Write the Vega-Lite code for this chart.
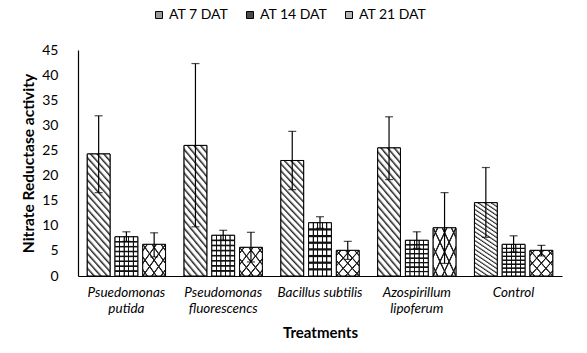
{
  "$schema": "https://vega.github.io/schema/vega-lite/v6.json",
  "width": 484,
  "height": 226,
  "autosize": {"type": "none"},
  "padding": {"left": 78, "top": 50, "right": 25, "bottom": 77},
  "background": "white",
  "config": {
    "font": "Lato",
    "view": {"stroke": null},
    "axisY": {"labelOverlap": false, "labelFontSize": 14, "labelColor": "black", "labelPadding": 20, "ticks": false, "tickSize": 0, "grid": false, "domain": true, "domainColor": "black", "domainWidth": 1, "domainOpacity": 1, "titleFontSize": 15.5, "titleFontWeight": "bold", "titleColor": "black", "titlePadding": 5}
  },
  "data": {
    "values": [
      {"treatment": "Psuedomonas putida", "series": "AT 7 DAT", "value": 24.3, "lo": 16.6, "hi": 31.9},
      {"treatment": "Psuedomonas putida", "series": "AT 14 DAT", "value": 7.8, "lo": 6.9, "hi": 8.8},
      {"treatment": "Psuedomonas putida", "series": "AT 21 DAT", "value": 6.3, "lo": 3.8, "hi": 8.6},
      {"treatment": "Pseudomonas fluorescencs", "series": "AT 7 DAT", "value": 26.0, "lo": 9.8, "hi": 42.3},
      {"treatment": "Pseudomonas fluorescencs", "series": "AT 14 DAT", "value": 8.1, "lo": 7.1, "hi": 9.1},
      {"treatment": "Pseudomonas fluorescencs", "series": "AT 21 DAT", "value": 5.7, "lo": 2.8, "hi": 8.7},
      {"treatment": "Bacillus subtilis", "series": "AT 7 DAT", "value": 23.0, "lo": 17.2, "hi": 28.8},
      {"treatment": "Bacillus subtilis", "series": "AT 14 DAT", "value": 10.6, "lo": 9.5, "hi": 11.8},
      {"treatment": "Bacillus subtilis", "series": "AT 21 DAT", "value": 5.1, "lo": 3.3, "hi": 6.9},
      {"treatment": "Azospirillum lipoferum", "series": "AT 7 DAT", "value": 25.5, "lo": 19.2, "hi": 31.7},
      {"treatment": "Azospirillum lipoferum", "series": "AT 14 DAT", "value": 7.1, "lo": 5.5, "hi": 8.8},
      {"treatment": "Azospirillum lipoferum", "series": "AT 21 DAT", "value": 9.6, "lo": 2.5, "hi": 16.6},
      {"treatment": "Control", "series": "AT 7 DAT", "value": 14.6, "lo": 7.7, "hi": 21.6},
      {"treatment": "Control", "series": "AT 14 DAT", "value": 6.3, "lo": 4.8, "hi": 8.0},
      {"treatment": "Control", "series": "AT 21 DAT", "value": 5.1, "lo": 4.0, "hi": 6.1}
    ]
  },
  "encoding": {
    "x": {
      "field": "treatment",
      "type": "nominal",
      "sort": ["Psuedomonas putida", "Pseudomonas fluorescencs", "Bacillus subtilis", "Azospirillum lipoferum", "Control"],
      "scale": {"paddingInner": 0.18, "paddingOuter": 0.09},
      "axis": {
        "title": "Treatments",
        "titleFontSize": 15,
        "titleFontWeight": "bold",
        "titleColor": "black",
        "titlePadding": 11,
        "labelAngle": 0,
        "labelFontSize": 13.5,
        "labelFontStyle": "italic",
        "labelColor": "black",
        "labelLineHeight": 16,
        "labelPadding": 9,
        "labelOverlap": false,
        "labelExpr": "datum.label == 'Bacillus subtilis' ? datum.label : split(datum.label, ' ')",
        "ticks": false,
        "domain": true,
        "domainColor": "black",
        "domainWidth": 1
      }
    },
    "xOffset": {
      "field": "series",
      "type": "nominal",
      "sort": ["AT 7 DAT", "AT 14 DAT", "AT 21 DAT"],
      "scale": {"domain": ["AT 7 DAT", "AT 14 DAT", "AT 21 DAT"], "paddingInner": 0.18, "paddingOuter": 0.02}
    },
    "y": {
      "field": "value",
      "type": "quantitative",
      "scale": {"domain": [0, 45]},
      "axis": {"title": "Nitrate Reductase activity", "values": [0, 5, 10, 15, 20, 25, 30, 35, 40, 45], "labelOverlap": false, "domain": true, "domainColor": "black", "domainWidth": 1.2}
    }
  },
  "layer": [
    {
      "mark": {"type": "bar", "stroke": "black", "strokeWidth": 1},
      "encoding": {
        "color": {
          "field": "series",
          "type": "nominal",
          "sort": ["AT 7 DAT", "AT 14 DAT", "AT 21 DAT"],
          "scale": {
            "domain": ["AT 7 DAT", "AT 14 DAT", "AT 21 DAT"],
            "range": ["#9a9a9a", "#4a4a4a", "#b5b5b5"]
          },
          "legend": {
            "orient": "none",
            "legendX": 74,
            "legendY": -42,
            "direction": "horizontal",
            "gridAlign": "none",
            "title": null,
            "symbolType": "square",
            "symbolSize": 49,
            "symbolStrokeColor": "black",
            "symbolStrokeWidth": 1,
            "labelFontSize": 14,
            "labelColor": "black",
            "labelOffset": 3,
            "columnPadding": 14
          }
        }
      }
    },
    {
      "transform": [{"filter": "datum.series == 'AT 7 DAT'"}],
      "mark": {"type": "bar", "stroke": "black", "strokeWidth": 1, "fill": {"gradient": "linear", "x1": 0, "y1": 1, "x2": 0.242, "y2": -0.158, "stops": [
        {"offset": 0, "color": "#222"}, {"offset": 0.02, "color": "white"}, {"offset": 0.04, "color": "white"},
        {"offset": 0.05, "color": "#222"}, {"offset": 0.07, "color": "white"}, {"offset": 0.09, "color": "white"},
        {"offset": 0.10, "color": "#222"}, {"offset": 0.12, "color": "white"}, {"offset": 0.14, "color": "white"},
        {"offset": 0.15, "color": "#222"}, {"offset": 0.17, "color": "white"}, {"offset": 0.19, "color": "white"},
        {"offset": 0.20, "color": "#222"}, {"offset": 0.22, "color": "white"}, {"offset": 0.24, "color": "white"},
        {"offset": 0.25, "color": "#222"}, {"offset": 0.27, "color": "white"}, {"offset": 0.29, "color": "white"},
        {"offset": 0.30, "color": "#222"}, {"offset": 0.32, "color": "white"}, {"offset": 0.34, "color": "white"},
        {"offset": 0.35, "color": "#222"}, {"offset": 0.37, "color": "white"}, {"offset": 0.39, "color": "white"},
        {"offset": 0.40, "color": "#222"}, {"offset": 0.42, "color": "white"}, {"offset": 0.44, "color": "white"},
        {"offset": 0.45, "color": "#222"}, {"offset": 0.47, "color": "white"}, {"offset": 0.49, "color": "white"},
        {"offset": 0.50, "color": "#222"}, {"offset": 0.52, "color": "white"}, {"offset": 0.54, "color": "white"},
        {"offset": 0.55, "color": "#222"}, {"offset": 0.57, "color": "white"}, {"offset": 0.59, "color": "white"},
        {"offset": 0.60, "color": "#222"}, {"offset": 0.62, "color": "white"}, {"offset": 0.64, "color": "white"},
        {"offset": 0.65, "color": "#222"}, {"offset": 0.67, "color": "white"}, {"offset": 0.69, "color": "white"},
        {"offset": 0.70, "color": "#222"}, {"offset": 0.72, "color": "white"}, {"offset": 0.74, "color": "white"},
        {"offset": 0.75, "color": "#222"}, {"offset": 0.77, "color": "white"}, {"offset": 0.79, "color": "white"},
        {"offset": 0.80, "color": "#222"}, {"offset": 0.82, "color": "white"}, {"offset": 0.84, "color": "white"},
        {"offset": 0.85, "color": "#222"}, {"offset": 0.87, "color": "white"}, {"offset": 0.89, "color": "white"},
        {"offset": 0.90, "color": "#222"}, {"offset": 0.92, "color": "white"}, {"offset": 0.94, "color": "white"},
        {"offset": 0.95, "color": "#222"}, {"offset": 0.97, "color": "white"}, {"offset": 0.99, "color": "white"},
        {"offset": 1, "color": "#222"}
      ]}},
      "encoding": {}
    },
    {
      "transform": [{"filter": "datum.series == 'AT 14 DAT'"}],
      "mark": {"type": "bar", "stroke": "black", "strokeWidth": 1, "fill": {"gradient": "linear", "x1": 0, "y1": 0, "x2": 1, "y2": 0, "stops": [
        {"offset": 0, "color": "white"}, {"offset": 0.165, "color": "white"}, {"offset": 0.185, "color": "#111"}, {"offset": 0.215, "color": "#111"}, {"offset": 0.235, "color": "white"},
        {"offset": 0.365, "color": "white"}, {"offset": 0.385, "color": "#111"}, {"offset": 0.415, "color": "#111"}, {"offset": 0.435, "color": "white"},
        {"offset": 0.565, "color": "white"}, {"offset": 0.585, "color": "#111"}, {"offset": 0.615, "color": "#111"}, {"offset": 0.635, "color": "white"},
        {"offset": 0.765, "color": "white"}, {"offset": 0.785, "color": "#111"}, {"offset": 0.815, "color": "#111"}, {"offset": 0.835, "color": "white"},
        {"offset": 1, "color": "white"}
      ]}},
      "encoding": {}
    },
    {
      "transform": [{"filter": "datum.series == 'AT 14 DAT'"}],
      "mark": {"type": "bar", "fill": {"gradient": "linear", "x1": 0, "y1": 0, "x2": 0, "y2": 1, "stops": [
        {"offset": 0, "color": "rgba(0,0,0,0)"},
        {"offset": 0.095, "color": "rgba(0,0,0,0)"}, {"offset": 0.113, "color": "#111"}, {"offset": 0.137, "color": "#111"}, {"offset": 0.155, "color": "rgba(0,0,0,0)"},
        {"offset": 0.22, "color": "rgba(0,0,0,0)"}, {"offset": 0.238, "color": "#111"}, {"offset": 0.262, "color": "#111"}, {"offset": 0.28, "color": "rgba(0,0,0,0)"},
        {"offset": 0.345, "color": "rgba(0,0,0,0)"}, {"offset": 0.363, "color": "#111"}, {"offset": 0.387, "color": "#111"}, {"offset": 0.405, "color": "rgba(0,0,0,0)"},
        {"offset": 0.47, "color": "rgba(0,0,0,0)"}, {"offset": 0.488, "color": "#111"}, {"offset": 0.512, "color": "#111"}, {"offset": 0.53, "color": "rgba(0,0,0,0)"},
        {"offset": 0.595, "color": "rgba(0,0,0,0)"}, {"offset": 0.613, "color": "#111"}, {"offset": 0.637, "color": "#111"}, {"offset": 0.655, "color": "rgba(0,0,0,0)"},
        {"offset": 0.72, "color": "rgba(0,0,0,0)"}, {"offset": 0.738, "color": "#111"}, {"offset": 0.762, "color": "#111"}, {"offset": 0.78, "color": "rgba(0,0,0,0)"},
        {"offset": 0.845, "color": "rgba(0,0,0,0)"}, {"offset": 0.863, "color": "#111"}, {"offset": 0.887, "color": "#111"}, {"offset": 0.905, "color": "rgba(0,0,0,0)"},
        {"offset": 1, "color": "rgba(0,0,0,0)"}
      ]}},
      "encoding": {}
    },
    {
      "transform": [{"filter": "datum.series == 'AT 21 DAT'"}],
      "mark": {"type": "bar", "stroke": "black", "strokeWidth": 1, "fill": {"gradient": "linear", "x1": 0, "y1": 0, "x2": 1, "y2": 1, "stops": [
        {"offset": 0, "color": "white"}, {"offset": 0.075, "color": "white"}, {"offset": 0.09, "color": "#222"}, {"offset": 0.11, "color": "#222"}, {"offset": 0.125, "color": "white"},
        {"offset": 0.275, "color": "white"}, {"offset": 0.29, "color": "#222"}, {"offset": 0.31, "color": "#222"}, {"offset": 0.325, "color": "white"},
        {"offset": 0.475, "color": "white"}, {"offset": 0.49, "color": "#222"}, {"offset": 0.51, "color": "#222"}, {"offset": 0.525, "color": "white"},
        {"offset": 0.675, "color": "white"}, {"offset": 0.69, "color": "#222"}, {"offset": 0.71, "color": "#222"}, {"offset": 0.725, "color": "white"},
        {"offset": 0.875, "color": "white"}, {"offset": 0.89, "color": "#222"}, {"offset": 0.91, "color": "#222"}, {"offset": 0.925, "color": "white"},
        {"offset": 1, "color": "white"}
      ]}},
      "encoding": {}
    },
    {
      "transform": [{"filter": "datum.series == 'AT 21 DAT'"}],
      "mark": {"type": "bar", "fill": {"gradient": "linear", "x1": 0, "y1": 1, "x2": 1, "y2": 0, "stops": [
        {"offset": 0, "color": "rgba(0,0,0,0)"}, {"offset": 0.075, "color": "rgba(0,0,0,0)"}, {"offset": 0.09, "color": "#222"}, {"offset": 0.11, "color": "#222"}, {"offset": 0.125, "color": "rgba(0,0,0,0)"},
        {"offset": 0.275, "color": "rgba(0,0,0,0)"}, {"offset": 0.29, "color": "#222"}, {"offset": 0.31, "color": "#222"}, {"offset": 0.325, "color": "rgba(0,0,0,0)"},
        {"offset": 0.475, "color": "rgba(0,0,0,0)"}, {"offset": 0.49, "color": "#222"}, {"offset": 0.51, "color": "#222"}, {"offset": 0.525, "color": "rgba(0,0,0,0)"},
        {"offset": 0.675, "color": "rgba(0,0,0,0)"}, {"offset": 0.69, "color": "#222"}, {"offset": 0.71, "color": "#222"}, {"offset": 0.725, "color": "rgba(0,0,0,0)"},
        {"offset": 0.875, "color": "rgba(0,0,0,0)"}, {"offset": 0.89, "color": "#222"}, {"offset": 0.91, "color": "#222"}, {"offset": 0.925, "color": "rgba(0,0,0,0)"},
        {"offset": 1, "color": "rgba(0,0,0,0)"}
      ]}},
      "encoding": {}
    },
    {
      "mark": {"type": "rule", "color": "black", "strokeWidth": 1.2},
      "encoding": {
        "y": {"field": "lo", "type": "quantitative", "axis": {"title": "Nitrate Reductase activity", "values": [0, 5, 10, 15, 20, 25, 30, 35, 40, 45], "labelOverlap": false, "domain": true, "domainColor": "black", "domainWidth": 1.2}},
        "y2": {"field": "hi"}
      }
    },
    {
      "mark": {"type": "tick", "color": "black", "thickness": 1.2, "size": 8, "orient": "horizontal"},
      "encoding": {"y": {"field": "hi", "type": "quantitative", "axis": {"title": "Nitrate Reductase activity", "values": [0, 5, 10, 15, 20, 25, 30, 35, 40, 45], "labelOverlap": false, "domain": true, "domainColor": "black", "domainWidth": 1.2}}}
    },
    {
      "mark": {"type": "tick", "color": "black", "thickness": 1.2, "size": 8, "orient": "horizontal"},
      "encoding": {"y": {"field": "lo", "type": "quantitative", "axis": {"title": "Nitrate Reductase activity", "values": [0, 5, 10, 15, 20, 25, 30, 35, 40, 45], "labelOverlap": false, "domain": true, "domainColor": "black", "domainWidth": 1.2}}}
    }
  ]
}
